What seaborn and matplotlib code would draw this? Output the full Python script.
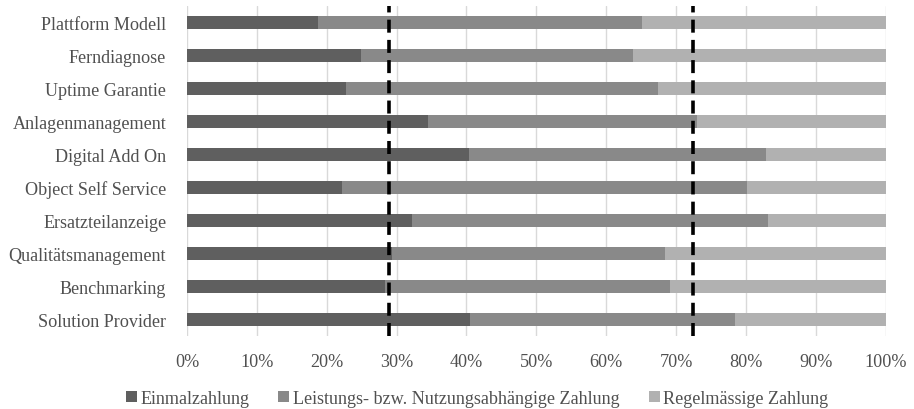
import matplotlib
matplotlib.use("Agg")
import matplotlib.pyplot as plt
import seaborn as sns
import pandas as pd
from matplotlib.patches import Patch

# values (percent)
categories = ["Plattform Modell", "Ferndiagnose", "Uptime Garantie", "Anlagenmanagement",
              "Digital Add On", "Object Self Service", "Ersatzteilanzeige",
              "Qualitätsmanagement", "Benchmarking", "Solution Provider"]
einmal = [18.7, 24.9, 22.8, 34.5, 40.4, 22.2, 32.2, 29.3, 28.4, 40.5]
leistung = [46.4, 39.0, 44.6, 38.5, 42.5, 57.9, 50.9, 39.1, 40.7, 37.9]
regel = [34.9, 36.1, 32.6, 27.0, 17.1, 19.9, 16.9, 31.6, 30.9, 21.6]
ref_lines = [28.9, 72.4]
series_names = ["Einmalzahlung", "Leistungs- bzw. Nutzungsabhängige Zahlung", "Regelmässige Zahlung"]
colors = ["#5f5f5f", "#898989", "#b1b1b1"]

df = pd.DataFrame({"cat": categories, "e": einmal, "l": leistung, "r": regel})
df["cum_l"] = df["e"] + df["l"]
df["cum_r"] = df["cum_l"] + df["r"]

sns.set_style("white")
plt.rcParams["font.family"] = ["Liberation Serif", "DejaVu Serif"]

fig, ax = plt.subplots(figsize=(9.14, 4.10), dpi=100)
fig.subplots_adjust(left=0.2046, right=0.969, top=0.983, bottom=0.178)

# stacked bars: draw cumulative totals back to front
for col, c in zip(["cum_r", "cum_l", "e"], colors[::-1]):
    sns.barplot(data=df, y="cat", x=col, color=c, width=0.4, orient="h",
                saturation=1, ax=ax, linewidth=0)

for v in ref_lines:
    ax.axvline(v, color="black", linewidth=2.6, linestyle=(0, (3.6, 2.0)), zorder=5)

ax.set_xlim(0, 100)
ax.set_ylim(9.5, -0.5)
ax.set_xticks(range(0, 101, 10))
ax.set_xticklabels([f"{t}%" for t in range(0, 101, 10)])
ax.xaxis.grid(True, color="#d9d9d9", linewidth=1)
ax.set_axisbelow(True)
for s in ax.spines.values():
    s.set_visible(False)
ax.tick_params(axis="both", length=0, labelsize=13.1, colors="#505050")
ax.tick_params(axis="x", pad=12)
ax.tick_params(axis="y", pad=15)
ax.set_xlabel("")
ax.set_ylabel("")

handles = [Patch(facecolor=c, edgecolor="none") for c in colors]
fig.legend(handles, series_names, loc="lower center", ncol=3, frameon=False,
           bbox_to_anchor=(0.522, -0.035), fontsize=13.1, handlelength=0.6,
           handleheight=0.6, handletextpad=0.2, columnspacing=1.6,
           labelcolor="#505050")

fig.savefig("out.png", dpi=100)
